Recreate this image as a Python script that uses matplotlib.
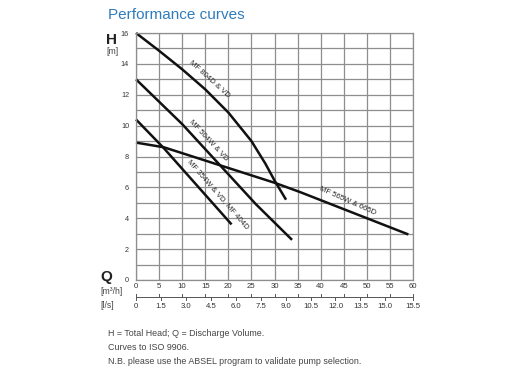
import matplotlib
matplotlib.use("Agg")
import matplotlib.pyplot as plt
import numpy as np

plt.rcParams['font.family'] = ['Liberation Sans', 'DejaVu Sans']

# Flow Q [m3/h] and head H [m]
q_804 = [0, 5, 10, 15, 20, 25, 28, 30, 32.5]
h_804 = [16, 14.85, 13.65, 12.35, 10.85, 9.0, 7.55, 6.45, 5.2]
q_504 = [0, 10, 18, 26, 33.8]
h_504 = [13, 10.1, 7.5, 4.9, 2.6]
q_354 = [0, 6, 20.7]
h_354 = [10.4, 8.55, 3.6]
q_565 = [0, 6, 18, 30, 35.5, 59]
h_565 = [8.9, 8.6, 7.45, 6.3, 5.7, 2.95]

labels = ["MF 804D & VD", "MF 504W & VD", "MF 354W & VD, MF 404D", "MF 565W & 665D"]

q_ticks = [0, 5, 10, 15, 20, 25, 30, 35, 40, 45, 50, 55, 60]
h_ticks = [0, 2, 4, 6, 8, 10, 12, 14, 16]
ls_labels = ["0", "1.5", "3.0", "4.5", "6.0", "7.5", "9.0", "10.5", "12.0", "13.5", "15.0", "15.5"]
ls_pos = [0, 5.4, 10.8, 16.2, 21.6, 27.0, 32.4, 37.8, 43.2, 48.6, 54.0, 60]

W, H = 507, 380
fig = plt.figure(figsize=(W / 100, H / 100), dpi=100)
L, R, T, B = 136, 413, 33, 280
ax = fig.add_axes([L / W, 1 - B / H, (R - L) / W, (B - T) / H])
ax.set_xlim(0, 60)
ax.set_ylim(0, 16)

gc = '#8e8e8e'
ax.set_xticks(q_ticks)
ax.set_yticks(np.arange(0, 17, 1))
ax.grid(True, color=gc, linewidth=0.9)
for s in ax.spines.values():
    s.set_color(gc)
    s.set_linewidth(0.9)
ax.tick_params(length=0)
ax.set_yticklabels([str(v) if v in h_ticks else "" for v in range(17)], fontsize=5.2, color='#333333')
ax.set_xticklabels([str(v) for v in q_ticks], fontsize=5.6, color='#333333')
ax.tick_params(axis='y', pad=5)
ax.tick_params(axis='x', pad=2)

lc = '#111111'
for q, h in [(q_804, h_804), (q_504, h_504), (q_354, h_354), (q_565, h_565)]:
    ax.plot(q, h, color=lc, linewidth=1.8, solid_capstyle='butt', solid_joinstyle='round', clip_on=False)

lab_pos = [(15.9, 13.0, -42), (15.6, 9.0, -47), (17.9, 5.55, -49), (45.9, 5.1, -24)]
for txt, (x, y, a) in zip(labels, lab_pos):
    ax.text(x, y, txt, fontsize=5.6, rotation=a, ha='center', va='center',
            color='#2a2a2a', rotation_mode='anchor')

# l/s secondary scale
def fx(px):
    return px / W
def fy(py):
    return 1 - py / H

y_line = 297
sc = (R - L) / 60.0
fig.add_artist(plt.Line2D([fx(L), fx(R)], [fy(y_line), fy(y_line)], color='#555555', linewidth=0.7))
for v in q_ticks:
    px = L + v * sc
    fig.add_artist(plt.Line2D([fx(px), fx(px)], [fy(y_line - 3), fy(y_line)], color='#555555', linewidth=0.7))
for v, t in zip(ls_pos, ls_labels):
    px = L + v * sc
    fig.add_artist(plt.Line2D([fx(px), fx(px)], [fy(y_line), fy(y_line + 2.5)], color='#555555', linewidth=0.7))
    fig.text(fx(px), fy(306), t, fontsize=5.6, color='#333333', ha='center', va='center')

# axis labels
fig.text(fx(106), fy(40), "H", fontsize=11, color='#222222', ha='left', va='center', fontweight='bold')
fig.text(fx(106), fy(52), "[m]", fontsize=6.2, color='#444444', ha='left', va='center')
fig.text(fx(100), fy(277), "Q", fontsize=11, color='#222222', ha='left', va='center', fontweight='bold')
fig.text(fx(100), fy(291), "[m³/h]", fontsize=6.2, color='#444444', ha='left', va='center')
fig.text(fx(100), fy(306), "[l/s]", fontsize=6.2, color='#444444', ha='left', va='center')

fig.text(fx(108), fy(15), "Performance curves", fontsize=11, color='#2f7bbd', ha='left', va='center')

foot = ["H = Total Head; Q = Discharge Volume.",
        "Curves to ISO 9906.",
        "N.B. please use the ABSEL program to validate pump selection."]
for i, t in enumerate(foot):
    fig.text(fx(108), fy(334 + 14 * i), t, fontsize=6.4, color='#444444', ha='left', va='center')

fig.savefig("out.png", dpi=100)
